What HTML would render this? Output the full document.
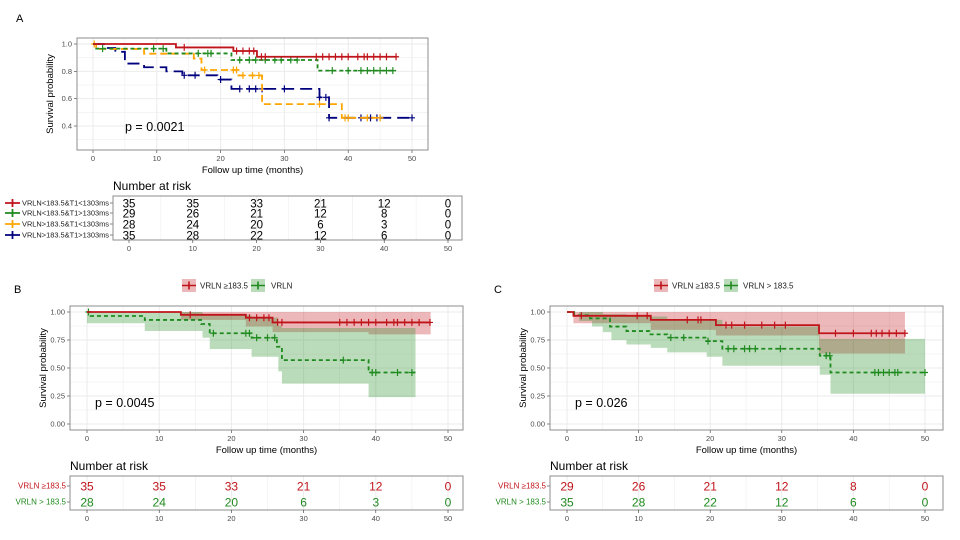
<!DOCTYPE html>
<html><head><meta charset="utf-8"><style>
html,body{margin:0;padding:0;background:#fff}
svg{display:block;font-family:"Liberation Sans",sans-serif}
</style></head><body>
<svg id="fig" width="960" height="540" viewBox="0 0 960 540"></svg>
<script>
// ---- data ----
const tickTimes=[0,10,20,30,40,50];
// Panel A series (step times, survival)
const aRedT=[0,13,22,25.7], aRedS=[1,0.975,0.949,0.907], aRedEnd=47.6;
const aRedC=[14.3,22.5,23.5,24.5,25.2,26.4,27,35,36,37,38,39,40,41.5,42.5,43,44,45,46,47.5];
const aGrnT=[0,0.5,11.5,21.7,35.2], aGrnS=[1,0.966,0.931,0.883,0.805], aGrnEnd=47.5;
const aGrnC=[1.5,9.5,11,16.5,18,18.5,23,24.5,25.5,27,28.5,29.5,31,32,37.5,40,42,43,44,45,46,47];
const aOrgT=[0,0.5,8,15.8,17,22.8,26.5,39], aOrgS=[1,0.964,0.929,0.893,0.81,0.77,0.56,0.46], aOrgEnd=45.5;
const aOrgC=[0.2,17.5,22,22.5,23.5,25,26,35.5,39.5,40,43,45];
const aNavT=[0,1.7,3.5,5,8,11.5,14,19.5,21.7,35.5,37], aNavS=[1,0.971,0.943,0.857,0.83,0.8,0.771,0.74,0.672,0.61,0.46], aNavEnd=50;
const aNavC=[14.3,16,20,23,24.5,25.5,26.5,30,35.5,36.5,37,42,43.5,44.5,50];
const aRisk=[[35,35,33,21,12,0],[29,26,21,12,8,0],[28,24,20,6,3,0],[35,28,22,12,6,0]];
const aLabels=["VRLN<183.5&T1<1303ms","VRLN<183.5&T1>1303ms","VRLN>183.5&T1<1303ms","VRLN>183.5&T1>1303ms"];
// Panel B
const bGrnT=[0,0.5,8,15.8,17,22.8,26.3,27,39], bGrnS=[1,0.964,0.929,0.893,0.81,0.77,0.69,0.57,0.46], bGrnEnd=45.5;
const bRedCIt=[13,22,25.7,39], bRedLo=[0.93,0.87,0.82,0.80], bRedHi=[1,1,1,1], bRedCIend=47.6;
const bGrnCIt=[0,8,16,17,22.8,26.5,27,39], bGrnLo=[0.90,0.83,0.77,0.67,0.60,0.47,0.36,0.24], bGrnHi=[1,1,0.97,0.97,0.95,0.88,0.857,0.857], bGrnCIend=45.5;
const bRisk=[[35,35,33,21,12,0],[28,24,20,6,3,0]];
// Panel C
const cRedCIt=[0.9,11.7,20.8,35.2], cRedLo=[0.90,0.84,0.79,0.63], cRedHi=[1,1,1,1], cRedCIend=47.2;
const cGrnCIt=[1.7,3.5,5,6.2,8.3,11.7,14,19.5,21.7,35.3,36.8], cGrnLo=[0.92,0.87,0.82,0.75,0.71,0.68,0.64,0.60,0.52,0.44,0.27], cGrnHi=[1,1,0.98,0.98,0.96,0.96,0.93,0.93,0.87,0.76,0.76], cGrnCIend=50;
const cRedT=[0,0.9,11.7,20.8,35.2], cRedS=[1,0.966,0.93,0.883,0.81], cRedEnd=47.2;
const cRedC=[2,9.8,11.2,16.8,18.3,18.7,22.2,23,24.8,27.2,29,30.5,37.5,40,42.5,43.2,44,45,46,47.2];
const cGrnT=[0,1,3.2,6,8.3,11.5,14,19.5,21.7,35.3,36.8], cGrnS=[1,0.971,0.943,0.87,0.83,0.8,0.771,0.74,0.672,0.61,0.46], cGrnEnd=50;
const cGrnC=[14.5,16.3,19.7,22.5,23.3,24.8,25.5,26.3,29.8,36.2,36.7,43,43.5,44.2,45,45.8,46.2,50];
const cRisk=[[29,26,21,12,8,0],[35,28,22,12,6,0]];

const RED="#c0141b",GRN="#1f8a1f",ORG="#ffa500",NAV="#00007f";
const NS="http://www.w3.org/2000/svg";
const fig=document.getElementById('fig');
function mk(tag,attrs,parent){const e=document.createElementNS(NS,tag);for(const k in attrs)e.setAttribute(k,attrs[k]);(parent||fig).appendChild(e);return e;}
function txt(s,attrs,parent){const e=mk('text',attrs,parent);e.textContent=s;return e;}

function panel(P){
  const g=mk('g',{});
  
  
  const X=t=>P.x0+t*P.kx, Y=p=>P.y1+(1-p)*P.ky;
  mk('rect',{x:P.bx0,y:P.by0,width:P.bx1-P.bx0,height:P.by1-P.by0,fill:'#fff'},g);
  for(let t=0;t<=50;t+=5){mk('line',{x1:X(t),x2:X(t),y1:P.by0,y2:P.by1,stroke:'#ebebeb','stroke-width':t%10?0.5:1},g);}
  P.yminor.forEach(v=>mk('line',{x1:P.bx0,x2:P.bx1,y1:Y(v),y2:Y(v),stroke:'#ebebeb','stroke-width':0.5},g));
  P.yticks.forEach((v,i)=>{mk('line',{x1:P.bx0,x2:P.bx1,y1:Y(v),y2:Y(v),stroke:'#ebebeb','stroke-width':1},g);
    mk('line',{x1:P.bx0-3,x2:P.bx0,y1:Y(v),y2:Y(v),stroke:'#333','stroke-width':0.6},g);
    const l=txt(P.ylabels[i],{x:P.bx0-5,y:Y(v)+2.5,'font-size':7.5,fill:'#4d4d4d','text-anchor':'end'},g);
    
    });
  tickTimes.forEach(t=>{mk('line',{x1:X(t),x2:X(t),y1:P.by1,y2:P.by1+3,stroke:'#333','stroke-width':0.6},g);
    const l=txt(String(t),{x:X(t),y:P.by1+11,'font-size':7.5,fill:'#4d4d4d','text-anchor':'middle'},g);
    
    });
  (P.ribbons||[]).forEach(r=>{
    let top='',bot=[];
    r.t.forEach((t,i)=>{const t2=i<r.t.length-1?r.t[i+1]:r.end;
      top+=(i?'L':'M')+X(t)+','+Y(r.hi[i])+'L'+X(t2)+','+Y(r.hi[i]);
      bot.unshift('L'+X(t2)+','+Y(r.lo[i])+'L'+X(t)+','+Y(r.lo[i]));});
    const p=mk('path',{d:top+bot.join('')+'Z',fill:r.col,'fill-opacity':0.3},g);
    
    
  });
  P.series.forEach(s=>{
    let d='M'+X(s.t[0])+','+Y(s.s[0]);
    for(let i=1;i<s.t.length;i++){d+='H'+X(s.t[i])+'V'+Y(s.s[i]);}
    d+='H'+X(s.end);
    const p=mk('path',{d:d,fill:'none',stroke:s.col,'stroke-width':1.8,'stroke-dasharray':s.dash||'none'},g);
    
    
    const sAt=t=>{let v=s.s[0];for(let i=0;i<s.t.length;i++)if(s.t[i]<=t)v=s.s[i];return v;};
    s.c.forEach(t=>{const cx=X(t),cy=Y(sAt(t));
      const c=mk('path',{d:`M${cx-3},${cy}H${cx+3}M${cx},${cy-3.5}V${cy+3.5}`,stroke:s.col,'stroke-width':1.2},g);
      
      });
  });
  mk('rect',{x:P.bx0,y:P.by0,width:P.bx1-P.bx0,height:P.by1-P.by0,fill:'none',stroke:'#8c8c8c','stroke-width':1},g);
  const pv=txt(P.pval,{x:P.px,y:P.py,'font-size':12.5,fill:'#000'},g);
  
  
  const xt=txt('Follow up time (months)',{x:(P.bx0+P.bx1)/2,y:P.by1+23,'font-size':9.5,fill:'#000','text-anchor':'middle'},g);
  
  
  const cy=(P.by0+P.by1)/2;
  const yt=txt('Survival probability',{x:P.bx0-24,y:cy,'font-size':9.5,fill:'#000','text-anchor':'middle',transform:`rotate(-90 ${P.bx0-24} ${cy})`},g);
  
  
  const lt=txt(P.letter,{x:P.lx,y:P.ly,'font-size':11,fill:'#000'},g);
  
  
  // risk table
  const R=P.risk;
  const rg=mk('g',{});
  
  
  const RX=t=>R.x0+t*R.kx;
  txt('Number at risk',{x:R.tx,y:R.ty,'font-size':12,fill:'#000'},rg);
  for(let t=0;t<=50;t+=5)mk('line',{x1:RX(t),x2:RX(t),y1:R.by0,y2:R.by1,stroke:'#ebebeb','stroke-width':t%10?0.5:1},rg);
  R.rows.forEach((row,i)=>{
    row.forEach((v,j)=>{const n=txt(String(v),{x:RX(tickTimes[j]),y:R.ry[i]+R.nfs*0.37,'font-size':R.nfs,fill:R.cols[i],'text-anchor':'middle'},rg);
      
      });
    mk('line',{x1:R.bx0-3,x2:R.bx0,y1:R.ry[i],y2:R.ry[i],stroke:'#333','stroke-width':0.6},rg);
  });
  mk('rect',{x:R.bx0,y:R.by0,width:R.bx1-R.bx0,height:R.by1-R.by0,fill:'none',stroke:'#8c8c8c','stroke-width':1},rg);
  tickTimes.forEach(t=>{mk('line',{x1:RX(t),x2:RX(t),y1:R.by1,y2:R.by1+3,stroke:'#333','stroke-width':0.6},rg);
    txt(String(t),{x:RX(t),y:R.by1+11,'font-size':7.5,fill:'#4d4d4d','text-anchor':'middle'},rg);});
  R.labels.forEach((l,i)=>{
    const attrs={x:R.bx0-4,y:R.ry[i]+2.6,'font-size':R.lfs,fill:R.lcols[i],'text-anchor':'end'};
    if(R.lw){attrs.textLength=R.lw;attrs.lengthAdjust='spacingAndGlyphs';}
    const e=txt(l,attrs,rg);
    
    
    if(R.glyph){const y=R.ry[i],c=R.cols2[i];
      mk('path',{d:`M5,${y}H20M12.5,${y-4}V${y+4}`,stroke:c,'stroke-width':1.8},rg);}
  });
}

panel({name:'panel-a',letter:'A',lx:16,ly:22,bx0:77,bx1:428,by0:38,by1:150,x0:93,kx:6.38,y1:44,ky:136.7,
  yticks:[0.4,0.6,0.8,1.0],ylabels:['0.4','0.6','0.8','1.0'],yminor:[0.3,0.5,0.7,0.9],pval:'p = 0.0021',px:125,py:131,
  series:[
    {t:aNavT,s:aNavS,end:aNavEnd,c:aNavC,col:NAV,dash:'12,6'},
    {t:aOrgT,s:aOrgS,end:aOrgEnd,c:aOrgC,col:ORG,dash:'7,4'},
    {t:aGrnT,s:aGrnS,end:aGrnEnd,c:aGrnC,col:GRN,dash:'4,3'},
    {t:aRedT,s:aRedS,end:aRedEnd,c:aRedC,col:RED}],
  risk:{x0:129,kx:6.38,bx0:113,bx1:462,by0:196,by1:240,tx:113,ty:190,ry:[203,213,224,235],rows:aRisk,nfs:11.5,
    cols:['#000','#000','#000','#000'],labels:aLabels,lcols:['#1a1a1a','#1a1a1a','#1a1a1a','#1a1a1a'],lfs:7.5,lw:87,glyph:true,cols2:[RED,GRN,ORG,NAV]}});

panel({name:'panel-b',letter:'B',lx:14,ly:293,bx0:70,bx1:463,by0:306,by1:430,x0:87,kx:7.22,y1:312,ky:112,
  yticks:[0,0.25,0.5,0.75,1],ylabels:['0.00','0.25','0.50','0.75','1.00'],yminor:[0.125,0.375,0.625,0.875],pval:'p = 0.0045',px:95,py:407,
  ribbons:[{t:bRedCIt,lo:bRedLo,hi:bRedHi,end:bRedCIend,col:RED},{t:bGrnCIt,lo:bGrnLo,hi:bGrnHi,end:bGrnCIend,col:GRN}],
  series:[{t:bGrnT,s:bGrnS,end:bGrnEnd,c:aOrgC,col:GRN,dash:'4,3'},{t:aRedT,s:aRedS,end:aRedEnd,c:aRedC,col:RED}],
  risk:{x0:87,kx:7.22,bx0:70,bx1:463,by0:476,by1:510,tx:70,ty:470,ry:[486,502],rows:bRisk,nfs:12,cols:[RED,GRN],
    labels:['VRLN ≥183.5','VRLN > 183.5'],lcols:[RED,GRN],lfs:8}});

panel({name:'panel-c',letter:'C',lx:494,ly:293,bx0:550,bx1:943,by0:306,by1:430,x0:567,kx:7.16,y1:312,ky:112,
  yticks:[0,0.25,0.5,0.75,1],ylabels:['0.00','0.25','0.50','0.75','1.00'],yminor:[0.125,0.375,0.625,0.875],pval:'p = 0.026',px:575,py:407,
  ribbons:[{t:cRedCIt,lo:cRedLo,hi:cRedHi,end:cRedCIend,col:RED},{t:cGrnCIt,lo:cGrnLo,hi:cGrnHi,end:cGrnCIend,col:GRN}],
  series:[{t:cGrnT,s:cGrnS,end:cGrnEnd,c:cGrnC,col:GRN,dash:'4,3'},{t:cRedT,s:cRedS,end:cRedEnd,c:cRedC,col:RED}],
  risk:{x0:567,kx:7.16,bx0:550,bx1:943,by0:476,by1:510,tx:550,ty:470,ry:[486,502],rows:cRisk,nfs:12,cols:[RED,GRN],
    labels:['VRLN ≥183.5','VRLN > 183.5'],lcols:[RED,GRN],lfs:8}});

// legends
function legendKey(x,col,label,tx){
  const g=mk('g',{});
  
  
  mk('rect',{x:x,y:279,width:14,height:13,fill:col,'fill-opacity':0.3},g);
  mk('path',{d:`M${x},285.5H${x+14}M${x+7},281.5V289.5`,stroke:col,'stroke-width':1.6},g);
  txt(label,{x:tx,y:288.5,'font-size':8,fill:'#1a1a1a'},g);
}
legendKey(182,RED,'VRLN ≥183.5',200);
legendKey(251,GRN,'VRLN',271);
legendKey(654,RED,'VRLN ≥183.5',672);
legendKey(724,GRN,'VRLN > 183.5',743);
</script>
</body></html>
